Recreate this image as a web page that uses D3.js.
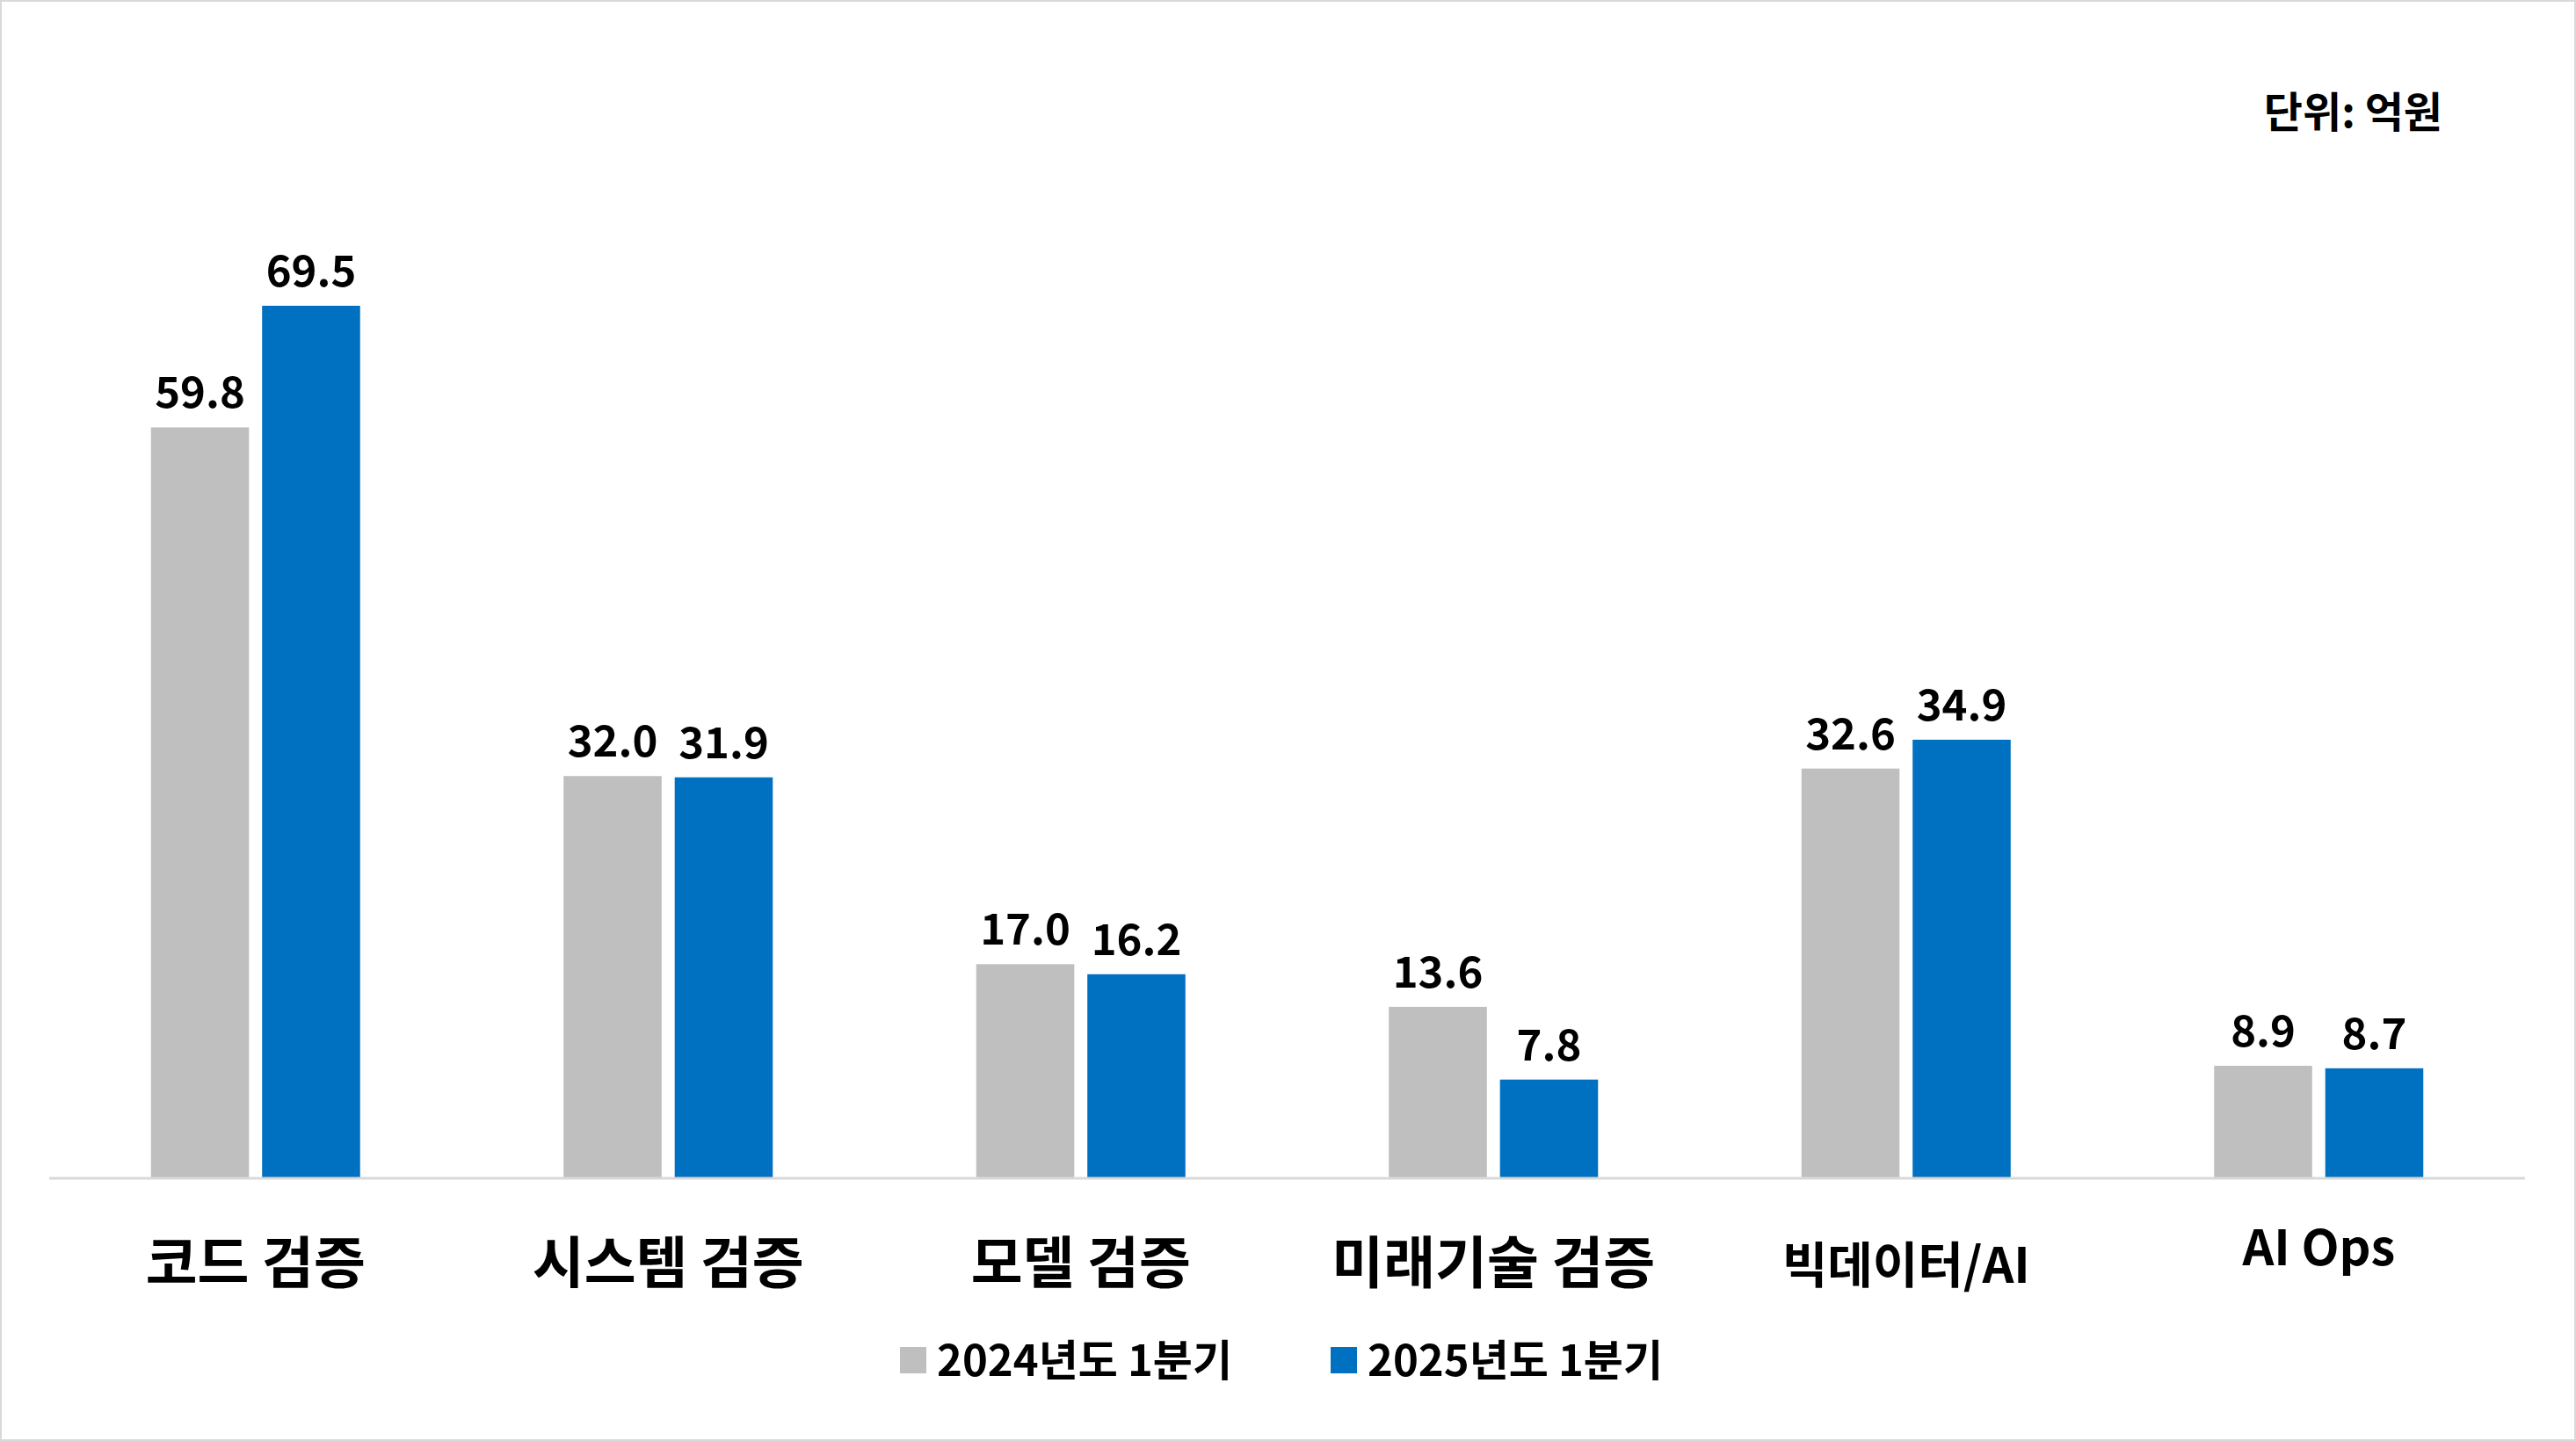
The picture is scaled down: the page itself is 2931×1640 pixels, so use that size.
<!DOCTYPE html>
<html><head><meta charset="utf-8">
<script src="https://cdn.jsdelivr.net/npm/d3@7"></script>
<style>body{margin:0;background:#fff}svg{display:block;font-family:"Noto Sans CJK KR","Noto Sans",sans-serif}</style>
</head><body><svg id="c"></svg>
<script>
const categories = ["코드 검증", "시스템 검증", "모델 검증", "미래기술 검증", "빅데이터/AI", "AI Ops"];
const series = ["2024년도 1분기", "2025년도 1분기"];
const values2024 = [59.8, 32.0, 17.0, 13.6, 32.6, 8.9];
const values2025 = [69.5, 31.9, 16.2, 7.8, 34.9, 8.7];
const colors = ["#BFBFBF", "#0070C0"];

const W = 2931, H = 1640;
const svg = d3.select("#c").attr("width", W).attr("height", H);
svg.append("rect").attr("x", 1).attr("y", 1).attr("width", W - 2).attr("height", H - 2)
  .attr("fill", "#fff").attr("stroke", "#d9d9d9").attr("stroke-width", 2);

const baseY = 1340;
const x0 = d3.scaleBand().domain(categories).range([56, 2873]);
const x1 = d3.scaleBand().domain(series).range([0, 238]).paddingInner(0.118);
const y = d3.scaleLinear().domain([0, 69.5]).range([baseY, 348]);

const rows = categories.map((c, i) => ({ c, v: [values2024[i], values2025[i]] }));
const g = svg.append("g").selectAll("g").data(rows).join("g")
  .attr("transform", d => `translate(${x0(d.c) + x0.bandwidth() / 2 - 119},0)`);
const bars = g.selectAll("g").data(d => d.v.map((v, k) => ({ s: series[k], v, k }))).join("g");
bars.append("rect")
  .attr("x", d => x1(d.s)).attr("width", x1.bandwidth())
  .attr("y", d => y(d.v)).attr("height", d => baseY - y(d.v))
  .attr("fill", d => colors[d.k]);
bars.append("text")
  .attr("x", d => x1(d.s) + x1.bandwidth() / 2).attr("y", d => y(d.v) - 22)
  .attr("text-anchor", "middle").attr("font-size", 49).attr("font-weight", "bold")
  .text(d => d.v.toFixed(1));

svg.append("line").attr("x1", 56).attr("x2", 2873).attr("y1", baseY + 1).attr("y2", baseY + 1)
  .attr("stroke", "#d9d9d9").attr("stroke-width", 3);

svg.append("g").selectAll("text").data(categories).join("text")
  .attr("x", d => x0(d) + x0.bandwidth() / 2)
  .attr("y", (d, i) => i === 5 ? 1440 : 1460)
  .attr("text-anchor", "middle").attr("font-weight", "bold")
  .attr("font-size", (d, i) => i >= 4 ? 56 : 64)
  .text(d => d);

const legX = [1024, 1514];
const leg = svg.append("g").selectAll("g").data(series).join("g")
  .attr("transform", (d, i) => `translate(${legX[i]},1563)`);
leg.append("rect").attr("x", 0).attr("y", -30).attr("width", 30).attr("height", 30)
  .attr("fill", (d, i) => colors[i]);
leg.append("text").attr("x", 42).attr("y", 3).attr("font-size", 49).attr("font-weight", "bold").text(d => d);

svg.append("text").attr("x", 2779).attr("y", 145).attr("text-anchor", "end")
  .attr("font-size", 48).attr("font-weight", "bold").text("단위: 억원");
</script></body></html>
